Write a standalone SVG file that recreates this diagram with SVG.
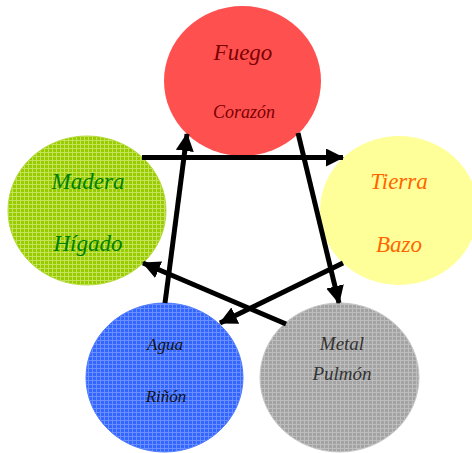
<svg xmlns="http://www.w3.org/2000/svg" width="472" height="453" viewBox="0 0 472 453">
  <defs>
    <style>
      .lbl { font-family: "Liberation Serif", "DejaVu Serif", serif; font-style: italic; text-anchor: middle; }
      .edge { stroke: #000; stroke-width: 5; fill: none; marker-end: url(#head); }
    </style>
    <marker id="head" viewBox="0 0 18 18" refX="17" refY="9" markerWidth="18" markerHeight="18" markerUnits="userSpaceOnUse" orient="auto">
      <path d="M0,0 L18,9 L0,18 Z" fill="#000"/>
    </marker>
    <pattern id="gridGreen" width="4" height="4" patternUnits="userSpaceOnUse">
      <rect width="4" height="4" fill="#99CC00"/>
      <path d="M0,0.5 H4 M0.5,0 V4" stroke="#C4E35A" stroke-width="1"/>
    </pattern>
    <pattern id="gridBlue" width="4" height="4" patternUnits="userSpaceOnUse">
      <rect width="4" height="4" fill="#3366FF"/>
      <path d="M0,0.5 H4 M0.5,0 V4" stroke="#6C8FFF" stroke-width="1"/>
    </pattern>
    <pattern id="gridGray" width="4" height="4" patternUnits="userSpaceOnUse">
      <rect width="4" height="4" fill="#A3A3A3"/>
      <path d="M0,0.5 H4 M0.5,0 V4" stroke="#BDBDBD" stroke-width="1"/>
    </pattern>
  </defs>

  <rect width="472" height="453" fill="#fff"/>

  <g id="fuego">
    <ellipse cx="242.5" cy="81" rx="78.5" ry="75" fill="#FF5050"/>
    <text class="lbl" x="243" y="60" font-size="23" fill="#7A0000">Fuego</text>
    <text class="lbl" x="244" y="118" font-size="18" fill="#7A0000">Corazón</text>
  </g>

  <g id="madera">
    <ellipse cx="87" cy="210.5" rx="79" ry="74.5" fill="url(#gridGreen)" stroke="#B5DA3A" stroke-width="1"/>
    <text class="lbl" x="88" y="189" font-size="23" fill="#008000">Madera</text>
    <text class="lbl" x="88" y="251" font-size="23" fill="#008000">Hígado</text>
  </g>

  <g id="tierra">
    <ellipse cx="399" cy="210.5" rx="79" ry="74.5" fill="#FFFF99"/>
    <text class="lbl" x="399" y="189" font-size="23" fill="#FF6600">Tierra</text>
    <text class="lbl" x="399" y="252" font-size="23" fill="#FF6600">Bazo</text>
  </g>

  <g id="agua">
    <ellipse cx="164.5" cy="377.5" rx="78.5" ry="74.5" fill="url(#gridBlue)" stroke="#4F7BFF" stroke-width="1"/>
    <text class="lbl" x="165" y="350" font-size="17" fill="#111">Agua</text>
    <text class="lbl" x="166" y="402" font-size="17" fill="#111">Riñón</text>
  </g>

  <g id="metal">
    <ellipse cx="339.5" cy="377.5" rx="79.5" ry="74.5" fill="url(#gridGray)" stroke="#C8C8C8" stroke-width="1"/>
    <text class="lbl" x="342" y="350" font-size="19" fill="#333">Metal</text>
    <text class="lbl" x="342" y="380" font-size="19" fill="#333">Pulmón</text>
  </g>

  <g id="connectors">
    <line class="edge" x1="142" y1="157.5" x2="343" y2="157.5"/>
    <line class="edge" x1="298" y1="133" x2="339" y2="303"/>
    <line class="edge" x1="343" y1="263" x2="220" y2="323"/>
    <line class="edge" x1="286" y1="324" x2="143" y2="263"/>
    <line class="edge" x1="165" y1="303" x2="187" y2="134"/>
  </g>
</svg>
